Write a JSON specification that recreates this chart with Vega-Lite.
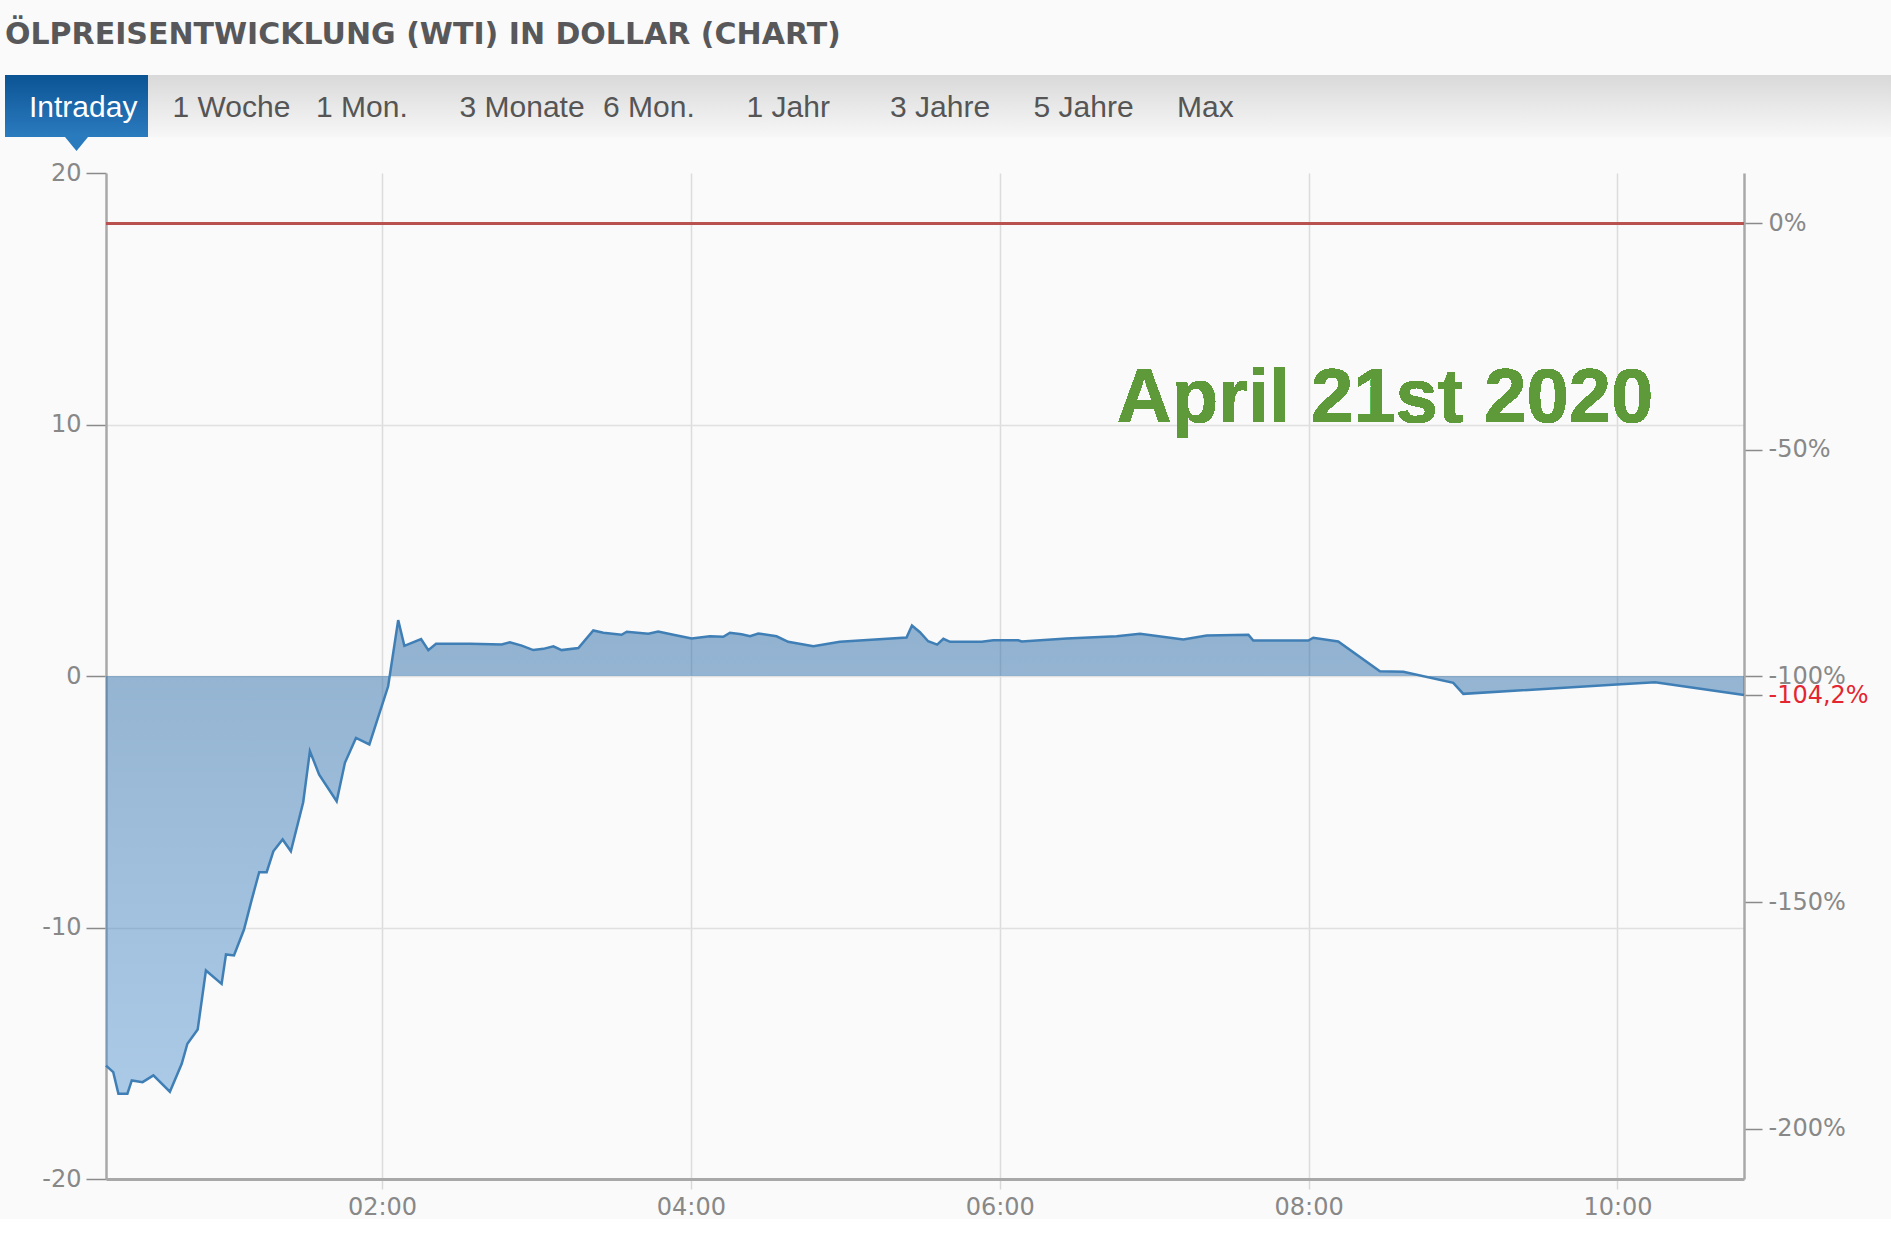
{
  "$schema": "https://vega.github.io/schema/vega-lite/v6.json",
  "background": "#fafafa",
  "padding": {"left": 5, "top": 20, "right": 0, "bottom": 0},
  "title": {
    "text": "ÖLPREISENTWICKLUNG (WTI) IN DOLLAR (CHART)",
    "anchor": "start",
    "frame": "group",
    "font": "DejaVu Sans",
    "fontSize": 30,
    "fontWeight": "bold",
    "color": "#58585a",
    "offset": 25
  },
  "spacing": 36,
  "bounds": "flush",
  "center": true,
  "config": {"view": {"stroke": null}},
  "vconcat": [
    {
      "width": 1840,
      "height": 62,
      "data": {
        "values": [
          {"tab": "Intraday"}, {"tab": "1 Woche"}, {"tab": "1 Mon."}, {"tab": "3 Monate"},
          {"tab": "6 Mon."}, {"tab": "1 Jahr"}, {"tab": "3 Jahre"}, {"tab": "5 Jahre"}, {"tab": "Max"}
        ]
      },
      "layer": [
        {
          "transform": [{"filter": "datum.tab === 'Intraday'"}],
          "mark": {
            "type": "rect",
            "color": {
              "gradient": "linear", "x1": 0, "y1": 0, "x2": 0, "y2": 1,
              "stops": [{"offset": 0, "color": "#d9d9d9"}, {"offset": 1, "color": "#f7f7f7"}]
            }
          },
          "encoding": {
            "x": {"datum": 0, "type": "quantitative", "axis": null, "scale": {"domain": [0, 1], "range": [0, 1886], "nice": false, "zero": false}},
            "x2": {"datum": 1}
          }
        },
        {
          "transform": [{"filter": "datum.tab === 'Intraday'"}],
          "mark": {
            "type": "rect",
            "color": {
              "gradient": "linear", "x1": 0, "y1": 0, "x2": 0, "y2": 1,
              "stops": [{"offset": 0, "color": "#0b5494"}, {"offset": 1, "color": "#2b7bbf"}]
            }
          },
          "encoding": {
            "x": {
              "field": "tab", "type": "nominal", "sort": null, "axis": null,
              "scale": {
                "type": "band",
                "domain": ["Intraday", "1 Woche", "1 Mon.", "3 Monate", "6 Mon.", "1 Jahr", "3 Jahre", "5 Jahre", "Max"],
                "range": [0, 1287], "paddingInner": 0, "paddingOuter": 0
              }
            }
          }
        },
        {
          "transform": [{"filter": "datum.tab === 'Intraday'"}],
          "mark": {
            "type": "point",
            "shape": "M-1,-0.6L1,-0.6L0,0.6Z",
            "size": 529,
            "filled": true,
            "opacity": 1,
            "color": "#2a7abe",
            "strokeWidth": 0,
            "yOffset": 38
          },
          "encoding": {
            "x": {
              "field": "tab", "type": "nominal", "sort": null, "axis": null,
              "scale": {
                "type": "band",
                "domain": ["Intraday", "1 Woche", "1 Mon.", "3 Monate", "6 Mon.", "1 Jahr", "3 Jahre", "5 Jahre", "Max"],
                "range": [0, 1287], "paddingInner": 0, "paddingOuter": 0
              }
            }
          }
        },
        {
          "mark": {
            "type": "text",
            "align": "left",
            "baseline": "middle",
            "dy": 2,
            "font": "Liberation Sans",
            "fontSize": 30
          },
          "encoding": {
            "x": {
              "field": "tab", "type": "nominal", "sort": null, "axis": null, "bandPosition": 0,
              "scale": {
                "type": "band",
                "domain": ["Intraday", "1 Woche", "1 Mon.", "3 Monate", "6 Mon.", "1 Jahr", "3 Jahre", "5 Jahre", "Max"],
                "range": [24, 1315.5], "paddingInner": 0, "paddingOuter": 0
              }
            },
            "text": {"field": "tab"},
            "color": {"condition": {"test": "datum.tab === 'Intraday'", "value": "#ffffff"}, "value": "#555555"}
          }
        }
      ],
      "resolve": {"scale": {"x": "independent"}}
    },
    {
      "width": 1638,
      "height": 1006,
      "data": {
        "values": [
          {"t": "2020-04-21T00:12:47", "p": -15.49},
          {"t": "2020-04-21T00:15:36", "p": -15.75},
          {"t": "2020-04-21T00:17:36", "p": -16.61},
          {"t": "2020-04-21T00:21:06", "p": -16.61},
          {"t": "2020-04-21T00:22:48", "p": -16.08},
          {"t": "2020-04-21T00:27:00", "p": -16.15},
          {"t": "2020-04-21T00:31:12", "p": -15.88},
          {"t": "2020-04-21T00:37:36", "p": -16.53},
          {"t": "2020-04-21T00:42:12", "p": -15.42},
          {"t": "2020-04-21T00:44:24", "p": -14.62},
          {"t": "2020-04-21T00:48:24", "p": -14.06},
          {"t": "2020-04-21T00:51:36", "p": -11.71},
          {"t": "2020-04-21T00:57:42", "p": -12.24},
          {"t": "2020-04-21T00:59:24", "p": -11.07},
          {"t": "2020-04-21T01:02:30", "p": -11.11},
          {"t": "2020-04-21T01:06:24", "p": -10.08},
          {"t": "2020-04-21T01:09:24", "p": -8.89},
          {"t": "2020-04-21T01:12:18", "p": -7.80},
          {"t": "2020-04-21T01:15:12", "p": -7.80},
          {"t": "2020-04-21T01:17:48", "p": -6.97},
          {"t": "2020-04-21T01:21:24", "p": -6.50},
          {"t": "2020-04-21T01:24:36", "p": -6.97},
          {"t": "2020-04-21T01:29:24", "p": -5.02},
          {"t": "2020-04-21T01:32:00", "p": -2.99},
          {"t": "2020-04-21T01:35:36", "p": -3.92},
          {"t": "2020-04-21T01:42:24", "p": -4.98},
          {"t": "2020-04-21T01:45:36", "p": -3.45},
          {"t": "2020-04-21T01:49:54", "p": -2.46},
          {"t": "2020-04-21T01:55:06", "p": -2.72},
          {"t": "2020-04-21T02:02:24", "p": -0.41},
          {"t": "2020-04-21T02:06:18", "p": 2.22},
          {"t": "2020-04-21T02:08:42", "p": 1.20},
          {"t": "2020-04-21T02:15:12", "p": 1.47},
          {"t": "2020-04-21T02:18:00", "p": 1.03},
          {"t": "2020-04-21T02:21:00", "p": 1.28},
          {"t": "2020-04-21T02:34:12", "p": 1.28},
          {"t": "2020-04-21T02:46:30", "p": 1.25},
          {"t": "2020-04-21T02:49:42", "p": 1.34},
          {"t": "2020-04-21T02:54:18", "p": 1.21},
          {"t": "2020-04-21T02:58:48", "p": 1.03},
          {"t": "2020-04-21T03:02:42", "p": 1.08},
          {"t": "2020-04-21T03:06:36", "p": 1.18},
          {"t": "2020-04-21T03:09:48", "p": 1.03},
          {"t": "2020-04-21T03:16:18", "p": 1.11},
          {"t": "2020-04-21T03:22:06", "p": 1.81},
          {"t": "2020-04-21T03:26:00", "p": 1.72},
          {"t": "2020-04-21T03:33:06", "p": 1.64},
          {"t": "2020-04-21T03:35:06", "p": 1.76},
          {"t": "2020-04-21T03:43:30", "p": 1.68},
          {"t": "2020-04-21T03:47:18", "p": 1.77},
          {"t": "2020-04-21T03:53:12", "p": 1.64},
          {"t": "2020-04-21T04:00:18", "p": 1.49},
          {"t": "2020-04-21T04:07:24", "p": 1.58},
          {"t": "2020-04-21T04:12:36", "p": 1.56},
          {"t": "2020-04-21T04:15:12", "p": 1.72},
          {"t": "2020-04-21T04:19:42", "p": 1.66},
          {"t": "2020-04-21T04:23:00", "p": 1.58},
          {"t": "2020-04-21T04:26:12", "p": 1.69},
          {"t": "2020-04-21T04:33:18", "p": 1.58},
          {"t": "2020-04-21T04:37:48", "p": 1.36},
          {"t": "2020-04-21T04:47:36", "p": 1.18},
          {"t": "2020-04-21T04:57:54", "p": 1.36},
          {"t": "2020-04-21T05:23:48", "p": 1.53},
          {"t": "2020-04-21T05:25:54", "p": 2.01},
          {"t": "2020-04-21T05:29:00", "p": 1.74},
          {"t": "2020-04-21T05:32:12", "p": 1.38},
          {"t": "2020-04-21T05:35:42", "p": 1.25},
          {"t": "2020-04-21T05:38:06", "p": 1.48},
          {"t": "2020-04-21T05:40:42", "p": 1.36},
          {"t": "2020-04-21T05:53:00", "p": 1.36},
          {"t": "2020-04-21T05:57:30", "p": 1.42},
          {"t": "2020-04-21T06:07:12", "p": 1.42},
          {"t": "2020-04-21T06:08:30", "p": 1.37},
          {"t": "2020-04-21T06:26:00", "p": 1.49},
          {"t": "2020-04-21T06:45:24", "p": 1.58},
          {"t": "2020-04-21T06:54:30", "p": 1.68},
          {"t": "2020-04-21T07:11:18", "p": 1.45},
          {"t": "2020-04-21T07:20:24", "p": 1.61},
          {"t": "2020-04-21T07:36:36", "p": 1.64},
          {"t": "2020-04-21T07:38:30", "p": 1.41},
          {"t": "2020-04-21T07:59:54", "p": 1.41},
          {"t": "2020-04-21T08:01:48", "p": 1.52},
          {"t": "2020-04-21T08:11:30", "p": 1.37},
          {"t": "2020-04-21T08:27:42", "p": 0.19},
          {"t": "2020-04-21T08:36:48", "p": 0.17},
          {"t": "2020-04-21T08:56:12", "p": -0.27},
          {"t": "2020-04-21T09:00:06", "p": -0.71},
          {"t": "2020-04-21T09:59:42", "p": -0.34},
          {"t": "2020-04-21T10:14:36", "p": -0.25},
          {"t": "2020-04-21T10:49:09", "p": -0.756}
        ]
      },
      "layer": [
        {
          "mark": {
            "type": "area",
            "interpolate": "linear",
            "opacity": 1,
            "fillOpacity": 1,
            "color": {
              "gradient": "linear", "x1": 0, "y1": 0, "x2": 0, "y2": 1,
              "stops": [
                {"offset": 0, "color": "rgba(40,105,165,0.5)"},
                {"offset": 1, "color": "rgba(70,140,205,0.44)"}
              ]
            },
            "line": {"color": "#3f7fb6", "strokeWidth": 2.5}
          },
          "encoding": {
            "x": {
              "field": "t",
              "type": "temporal",
              "scale": {
                "domain": [
                  {"year": 2020, "month": 4, "date": 21, "hours": 0, "minutes": 12, "seconds": 47},
                  {"year": 2020, "month": 4, "date": 21, "hours": 10, "minutes": 49, "seconds": 9}
                ],
                "nice": false
              },
              "axis": {
                "title": null,
                "values": [
                  {"year": 2020, "month": 4, "date": 21, "hours": 2},
                  {"year": 2020, "month": 4, "date": 21, "hours": 4},
                  {"year": 2020, "month": 4, "date": 21, "hours": 6},
                  {"year": 2020, "month": 4, "date": 21, "hours": 8},
                  {"year": 2020, "month": 4, "date": 21, "hours": 10}
                ],
                "format": "%H:%M",
                "labelFont": "DejaVu Sans",
                "labelFontSize": 24,
                "labelColor": "#888888",
                "labelPadding": 6,
                "labelFlush": false,
                "tickSize": 10,
                "tickColor": "#d8d8d8",
                "tickWidth": 1.5,
                "domainColor": "#a8a8a8",
                "domainWidth": 3,
                "grid": true,
                "gridColor": "#dcdcdc",
                "gridWidth": 1.5
              }
            },
            "y": {
              "field": "p",
              "type": "quantitative",
              "scale": {"domain": [-20, 20], "nice": false},
              "axis": {
                "orient": "left",
                "title": null,
                "values": [-20, -10, 0, 10, 20],
                "labelExpr": "'' + datum.value",
                "labelFont": "DejaVu Sans",
                "labelFontSize": 24,
                "labelColor": "#888888",
                "labelPadding": 5,
                "tickSize": 20,
                "tickColor": "#8a8a8a",
                "tickWidth": 1.5,
                "domainColor": "#a8a8a8",
                "domainWidth": 2.5,
                "grid": true,
                "gridColor": {"condition": {"test": "abs(datum.value) == 20", "value": "transparent"}, "value": "#e0e0e0"},
                "gridWidth": 1.5
              }
            },
            "y2": {"datum": 0}
          }
        },
        {
          "mark": {"type": "rule", "color": "#b9524f", "strokeWidth": 1.8},
          "encoding": {
            "y": {
              "datum": 18,
              "type": "quantitative",
              "axis": {
                "orient": "right",
                "title": null,
                "values": [18, 9, 0, -9, -18, -0.756],
                "labelExpr": "datum.value > -1 && datum.value < -0.5 ? '-104,2%' : (datum.value < 17 ? '-' : '') + abs(round((datum.value / 18 - 1) * 100)) + '%'",
                "labelOverlap": false,
                "labelFont": "DejaVu Sans",
                "labelFontSize": 24,
                "labelColor": {"condition": {"test": "datum.value > -1 && datum.value < -0.5", "value": "#e3262f"}, "value": "#888888"},
                "labelPadding": 6,
                "tickSize": 18,
                "tickColor": "#8a8a8a",
                "tickWidth": 1.5,
                "domainColor": "#a8a8a8",
                "domainWidth": 2.5,
                "grid": false
              }
            }
          }
        },
        {
          "mark": {
            "type": "text",
            "align": "left",
            "baseline": "alphabetic",
            "font": "Liberation Sans",
            "fontWeight": "bold",
            "fontSize": 76,
            "color": "#5e9a3a"
          },
          "encoding": {
            "x": {"datum": {"year": 2020, "month": 4, "date": 21, "hours": 6, "minutes": 45, "seconds": 30}, "type": "temporal"},
            "y": {"datum": 10.1, "type": "quantitative", "axis": null},
            "text": {"value": "April 21st 2020"}
          }
        }
      ],
      "resolve": {"axis": {"y": "independent"}}
    }
  ]
}
